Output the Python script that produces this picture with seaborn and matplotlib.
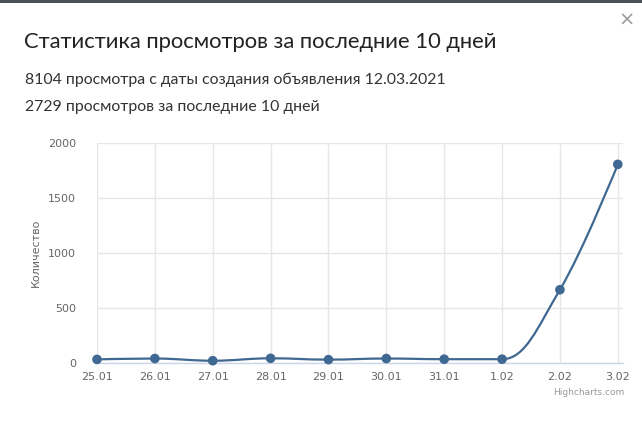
import numpy as np
import pandas as pd
import matplotlib
matplotlib.use("Agg")
import matplotlib.pyplot as plt
from matplotlib.path import Path
from matplotlib.patches import PathPatch, Rectangle
import seaborn as sns

# ---- data ----
dates = ["25.01", "26.01", "27.01", "28.01", "29.01", "30.01", "31.01", "1.02", "2.02", "3.02"]
views = [30, 38, 18, 40, 28, 38, 32, 32, 665, 1808]
y_ticks = [0, 500, 1000, 1500, 2000]

title = "Статистика просмотров за последние 10 дней"
subtitle1 = "8104 просмотра с даты создания объявления 12.03.2021"
subtitle2 = "2729 просмотров за последние 10 дней"
y_label = "Количество"
credit = "Highcharts.com"

LINE = "#3f6892"
GRID = "#e6e6e6"
AXIS = "#ccd6eb"
LABEL = "#666666"

sns.set_theme(style="white")
plt.rcParams["font.family"] = ["Lato", "DejaVu Sans"]

df = pd.DataFrame({"idx": np.arange(len(dates)), "date": dates, "views": views})

fig = plt.figure(figsize=(6.42, 4.23), dpi=100)
fig.patch.set_facecolor("white")

# dark strip at the very top (page behind modal)
fig.add_artist(Rectangle((0, 1 - 3 / 423), 1, 3 / 423, transform=fig.transFigure,
                         facecolor="#4b5055", edgecolor="none"))

ax = fig.add_axes([97 / 642, (423 - 362.7) / 423, (623 - 97) / 642, (362.7 - 143.3) / 423])

# Highcharts-like spline through the data points (bezier path)
xs = df["idx"].to_numpy(dtype=float)
ys = df["views"].to_numpy(dtype=float)
n = len(xs)
sm = 1.5
den = sm + 1
lc = [(xs[i], ys[i]) for i in range(n)]
rc = [(xs[i], ys[i]) for i in range(n)]
for i in range(1, n - 1):
    px, py = xs[i], ys[i]
    lx, ly = xs[i - 1], ys[i - 1]
    nx, ny = xs[i + 1], ys[i + 1]
    lcx = (sm * px + lx) / den
    lcy = (sm * py + ly) / den
    rcx = (sm * px + nx) / den
    rcy = (sm * py + ny) / den
    corr = ((rcy - lcy) * (rcx - px)) / (rcx - lcx) + py - rcy
    lcy += corr
    rcy += corr
    if lcy > ly and lcy > py:
        lcy = max(ly, py)
        rcy = 2 * py - lcy
    elif lcy < ly and lcy < py:
        lcy = min(ly, py)
        rcy = 2 * py - lcy
    if rcy > ny and rcy > py:
        rcy = max(ny, py)
        lcy = 2 * py - rcy
    elif rcy < ny and rcy < py:
        rcy = min(ny, py)
        lcy = 2 * py - rcy
    lc[i] = (lcx, lcy)
    rc[i] = (rcx, rcy)

verts = [(xs[0], ys[0])]
codes = [Path.MOVETO]
for i in range(1, n):
    verts += [rc[i - 1], lc[i], (xs[i], ys[i])]
    codes += [Path.CURVE4] * 3
ax.add_patch(PathPatch(Path(verts, codes), facecolor="none", edgecolor=LINE,
                       linewidth=1.6, zorder=3, capstyle="round", joinstyle="round"))

sns.scatterplot(data=df, x="idx", y="views", ax=ax, color=LINE, s=48,
                edgecolor="none", zorder=4, legend=False, clip_on=False)

ax.set_xlim(0, 9.09)
ax.set_ylim(0, 2000)
ax.set_xticks(df["idx"])
ax.set_xticklabels(dates)
ax.set_yticks(y_ticks)
ax.set_yticklabels([str(v) for v in y_ticks])
ax.set_xlabel("")
ax.set_ylabel(y_label, fontsize=8, color=LABEL, family=["DejaVu Sans"], labelpad=5)

ax.grid(True, color=GRID, linewidth=1)
ax.set_axisbelow(True)
for s in ["top", "right", "left"]:
    ax.spines[s].set_visible(False)
ax.spines["bottom"].set_color(AXIS)
ax.spines["bottom"].set_linewidth(1)

ax.tick_params(axis="x", which="both", length=6, width=1, color=AXIS, colors=LABEL,
               labelsize=8, pad=1)
ax.tick_params(axis="y", length=0, labelsize=8, pad=15, colors=LABEL)
for lab in ax.get_xticklabels() + ax.get_yticklabels():
    lab.set_family(["DejaVu Sans"])
    lab.set_color(LABEL)

# texts
fig.text(24 / 642, 1 - 42 / 423, title, fontsize=15.8, color="#222222", va="center", ha="left")
fig.text(25 / 642, 1 - 80 / 423, subtitle1, fontsize=11.4, color="#333333", va="center", ha="left")
fig.text(25 / 642, 1 - 107 / 423, subtitle2, fontsize=11.4, color="#333333", va="center", ha="left")
fig.text(624 / 642, 1 - 392 / 423, credit, fontsize=6.5, color="#999999", va="center", ha="right",
         family=["DejaVu Sans"])
fig.text(627 / 642, 1 - 20 / 423, "×", fontsize=14, color="#999999", va="center", ha="center",
         family=["DejaVu Sans"])

fig.savefig("out.png", dpi=100, facecolor="white")
